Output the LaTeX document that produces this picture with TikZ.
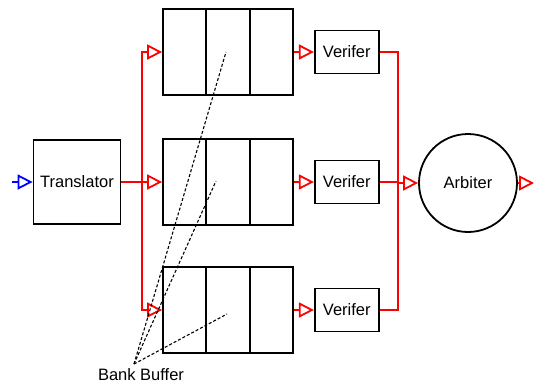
\documentclass[tikz,border=0pt]{standalone}
\usepackage{fontspec}
\setmainfont{Liberation Sans}
\usetikzlibrary{arrows.meta,positioning,calc}
\tikzset{
  >={Triangle[open,length=15pt,width=15pt]},
  blk/.style={draw=black,line width=1.8pt,fill=white,inner sep=0pt,font=\fontsize{16.5}{19}\selectfont},
  bank/.style={blk,minimum width=130pt,minimum height=86pt},
  ver/.style={blk,minimum width=64pt,minimum height=43pt},
  sig/.style={->,draw=red,line width=1.8pt},
  insig/.style={->,draw=blue,line width=1.8pt},
  lead/.style={draw=black,line width=1.1pt,dash pattern=on 3pt off 2pt},
}
\begin{document}
\begin{tikzpicture}[x=1pt,y=-1pt,node distance=20pt]
\useasboundingbox (0,0) rectangle (535,385);
% front end
\node[blk,minimum width=87pt,minimum height=84pt] (tr) at (77,182) {Translator};
\coordinate (in) at (12,182);
\coordinate (split) at (142,182);
% three bank buffers
\node[bank] (b1) at (228,52) {};
\node[bank] (b2) at (228,182) {};
\node[bank] (b3) at (228,310) {};
\foreach \b in {b1,b2,b3}
  \foreach \f in {1/3,2/3}
    \draw[line width=1.8pt] ($(\b.north west)!\f!(\b.north east)$) -- ($(\b.south west)!\f!(\b.south east)$);
\node[ver,right=of b1] (v1) {Verifer};
\node[ver,right=of b2] (v2) {Verifer};
\node[ver,right=of b3] (v3) {Verifer};
\node[draw,circle,line width=1.8pt,minimum size=98pt,inner sep=0pt,font=\fontsize{16.5}{19}\selectfont] (arb) at (468,183) {Arbiter};
\coordinate (merge) at (398,183);
\coordinate (out) at (534,183);
% connections
\draw[insig] (in) -- (tr.west);
\draw[sig] (tr.east) -- (b2.west);
\draw[sig] (split) |- (b1.west);
\draw[sig] (split) |- (b3.west);
\draw[sig] (b1.east) -- (v1.west);
\draw[sig] (b2.east) -- (v2.west);
\draw[sig] (b3.east) -- (v3.west);
\draw[red,line width=1.8pt] (v1.east) -| (merge);
\draw[red,line width=1.8pt] (v3.east) -| (merge);
\draw[red,line width=1.8pt] (v2.east) -- (v2.east -| merge);
\draw[sig] (merge) -- (arb.west);
\draw[sig] (arb.east) -- (out);
% label with leader lines
\node[font=\fontsize{16.5}{19}\selectfont,inner sep=0pt] (lbl) at (141,375) {Bank Buffer};
\coordinate (hub) at (134,364);
\draw[lead] (hub) -- ($(b1.center)+(-2,0)$);
\draw[lead] (hub) -- ($(b2.center)+(-12,-1)$);
\draw[lead] (hub) -- ($(b3.center)+(-1,4)$);
\end{tikzpicture}
\end{document}
